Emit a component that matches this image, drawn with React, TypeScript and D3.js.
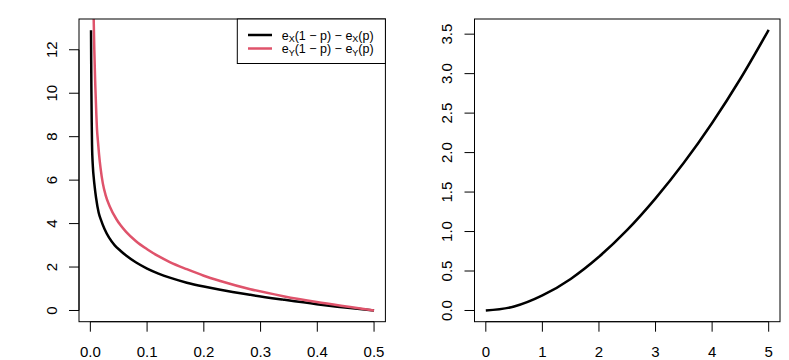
import React from "react";
import * as d3 from "d3";

// left panel: p vs e(1-p) - e(p)
const pBlack = [0.0012, 0.0015, 0.0018, 0.0024, 0.003, 0.0045, 0.0062, 0.0076, 0.01, 0.0147, 0.019, 0.025, 0.033, 0.043, 0.053, 0.063, 0.08, 0.1, 0.12, 0.14, 0.17, 0.2, 0.229, 0.282, 0.34, 0.399, 0.458, 0.5];
const diffX = [12.9, 11.5, 10.3, 8.7, 7.6, 6.6, 6.05, 5.7, 5.2, 4.5, 4.15, 3.75, 3.35, 3.0, 2.75, 2.53, 2.22, 1.93, 1.7, 1.51, 1.28, 1.1, 0.95, 0.72, 0.5, 0.29, 0.11, 0];
const pRed = [0.005, 0.0059, 0.0088, 0.0106, 0.0118, 0.013, 0.0153, 0.018, 0.022, 0.027, 0.034, 0.046, 0.053, 0.063, 0.08, 0.1, 0.12, 0.14, 0.17, 0.2, 0.229, 0.282, 0.34, 0.399, 0.458, 0.5];
const diffY = [15.0, 13.4, 10.3, 9.0, 8.3, 7.9, 7.2, 6.55, 5.85, 5.3, 4.8, 4.2, 3.93, 3.62, 3.2, 2.82, 2.5, 2.23, 1.9, 1.6, 1.36, 0.98, 0.66, 0.39, 0.16, 0];

// right panel
const xRight = [0, 0.5, 1, 1.5, 2, 2.5, 3, 3.5, 4, 4.5, 5];
const yRight = [0, 0.05, 0.19, 0.4, 0.68, 1.02, 1.42, 1.87, 2.375, 2.935, 3.555];

const leftXTicks = [0, 0.1, 0.2, 0.3, 0.4, 0.5];
const leftYTicks = [0, 2, 4, 6, 8, 10, 12];
const rightXTicks = [0, 1, 2, 3, 4, 5];
const rightYTicks = [0, 0.5, 1, 1.5, 2, 2.5, 3, 3.5];

const RED = "#DF536B";
const FONT = "'Liberation Sans', Arial, Helvetica, sans-serif";
const TOP = 19;
const BOTTOM = 321.7;
const TICK = 10;

type PanelProps = {
  id: string;
  x0: number;
  x1: number;
  xDomain: [number, number];
  yDomain: [number, number];
  xTicks: number[];
  yTicks: number[];
  fmtX: (v: number) => string;
  fmtY: (v: number) => string;
  children: (x: d3.ScaleLinear<number, number>, y: d3.ScaleLinear<number, number>) => React.ReactNode;
};

const Panel = ({ id, x0, x1, xDomain, yDomain, xTicks, yTicks, fmtX, fmtY, children }: PanelProps) => {
  const x = d3.scaleLinear().domain(xDomain).range([x0, x1]);
  const y = d3.scaleLinear().domain(yDomain).range([BOTTOM, TOP]);
  const xs = xTicks.map((d) => x(d));
  const ys = yTicks.map((d) => y(d));
  return (
    <g>
      <clipPath id={id}>
        <rect x={x0} y={TOP} width={x1 - x0} height={BOTTOM - TOP} />
      </clipPath>
      <g clipPath={`url(#${id})`}>{children(x, y)}</g>
      <rect x={x0} y={TOP} width={x1 - x0} height={BOTTOM - TOP} fill="none" stroke="#000" strokeWidth={1} />
      {/* x axis */}
      <line x1={xs[0]} x2={xs[xs.length - 1]} y1={BOTTOM} y2={BOTTOM} stroke="#000" />
      {xTicks.map((d, i) => (
        <g key={"x" + i}>
          <line x1={xs[i]} x2={xs[i]} y1={BOTTOM} y2={BOTTOM + TICK} stroke="#000" />
          <text x={xs[i]} y={356.5} textAnchor="middle" fontSize={15}>
            {fmtX(d)}
          </text>
        </g>
      ))}
      {/* y axis */}
      <line x1={x0} x2={x0} y1={ys[0]} y2={ys[ys.length - 1]} stroke="#000" />
      {yTicks.map((d, i) => (
        <g key={"y" + i}>
          <line x1={x0} x2={x0 - TICK} y1={ys[i]} y2={ys[i]} stroke="#000" />
          <text transform={`translate(${x0 - 22.5},${ys[i]}) rotate(-90)`} textAnchor="middle" fontSize={15}>
            {fmtY(d)}
          </text>
        </g>
      ))}
    </g>
  );
};

const LegendLabel = ({ x, y, v }: { x: number; y: number; v: string }) => (
  <text x={x} y={y} fontSize={12.5}>
    <tspan>e</tspan>
    <tspan fontSize={9} dy={2.5}>{v}</tspan>
    <tspan dy={-2.5}>(1 − p) − e</tspan>
    <tspan fontSize={9} dy={2.5}>{v}</tspan>
    <tspan dy={-2.5}>(p)</tspan>
  </text>
);

export default function App() {
  const line = (xv: number[], yv: number[], x: d3.ScaleLinear<number, number>, y: d3.ScaleLinear<number, number>) =>
    d3
      .line<number>()
      .x((_, i) => x(xv[i]))
      .y((d) => y(d))
      .curve(d3.curveMonotoneX)(yv) || "";

  return (
    <svg
      width={789}
      height={360}
      style={{ position: "absolute", left: 0, top: 0, display: "block", background: "#fff" }}
      fontFamily={FONT}
    >
      <Panel
        id="clipL"
        x0={79}
        x1={385.4}
        xDomain={[-0.02, 0.52]}
        yDomain={[-0.516, 13.416]}
        xTicks={leftXTicks}
        yTicks={leftYTicks}
        fmtX={d3.format(".1f")}
        fmtY={d3.format("d")}
      >
        {(x, y) => (
          <g fill="none" strokeWidth={2.5}>
            <path d={line(pBlack, diffX, x, y)} stroke="#000" />
            <path d={line(pRed, diffY, x, y)} stroke={RED} />
          </g>
        )}
      </Panel>
      {/* legend */}
      <g>
        <rect x={237.3} y={19} width={148.1} height={44.5} fill="#fff" stroke="#000" />
        <line x1={248} x2={272} y1={35} y2={35} stroke="#000" strokeWidth={2.5} />
        <line x1={248} x2={272} y1={48.5} y2={48.5} stroke={RED} strokeWidth={2.5} />
        <LegendLabel x={281.7} y={39.5} v="X" />
        <LegendLabel x={281.7} y={53} v="Y" />
      </g>
      <Panel
        id="clipR"
        x0={474.5}
        x1={780}
        xDomain={[-0.2, 5.2]}
        yDomain={[-0.142, 3.692]}
        xTicks={rightXTicks}
        yTicks={rightYTicks}
        fmtX={d3.format("d")}
        fmtY={d3.format(".1f")}
      >
        {(x, y) => <path d={line(xRight, yRight, x, y)} fill="none" stroke="#000" strokeWidth={2.5} />}
      </Panel>
    </svg>
  );
}
